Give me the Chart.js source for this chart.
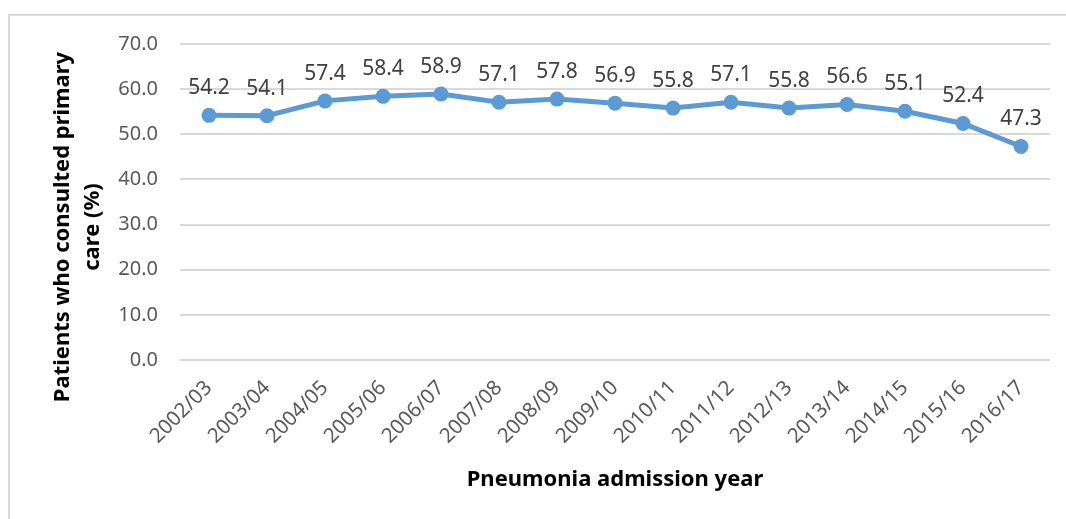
<!DOCTYPE html>
<html>
<head>
<meta charset="utf-8">
<script src="https://cdn.jsdelivr.net/npm/chart.js@4.4.0/dist/chart.umd.min.js"></script>
<style>
  html, body { margin: 0; padding: 0; background: #fff; overflow: hidden; }
  #frame { position: absolute; left: 8px; top: 14px; width: 1200px; height: 600px;
           border-top: 2px solid #d9d9d9; border-left: 2px solid #d9d9d9; }
  #chart { position: absolute; left: 0; top: 0; }
</style>
</head>
<body>
<div id="frame"></div>
<canvas id="chart" width="1066" height="519"></canvas>
<script>
const years = ["2002/03", "2003/04", "2004/05", "2005/06", "2006/07", "2007/08", "2008/09",
  "2009/10", "2010/11", "2011/12", "2012/13", "2013/14", "2014/15", "2015/16", "2016/17"];
const consulted = [54.2, 54.1, 57.4, 58.4, 58.9, 57.1, 57.8, 56.9, 55.8, 57.1, 55.8, 56.6, 55.1, 52.4, 47.3];
const yTicks = [0, 10, 20, 30, 40, 50, 60, 70];
const yTitle = ["Patients who consulted primary", "care (%)"];

const FONT = "'Noto Sans', 'Open Sans', sans-serif";

// values above each marker
const pointLabels = {
  id: "pointLabels",
  afterDatasetsDraw(chart) {
    const ctx = chart.ctx;
    const meta = chart.getDatasetMeta(0);
    ctx.save();
    ctx.font = "21px " + FONT;
    ctx.fillStyle = "#404040";
    ctx.textAlign = "center";
    ctx.textBaseline = "middle";
    meta.data.forEach((pt, i) => {
      ctx.fillText(consulted[i].toFixed(1), pt.x, pt.y - 27);
    });
    ctx.restore();
  },
};

// y axis title, centred on the whole axis area like the original
const yAxisTitle = {
  id: "yAxisTitle",
  afterDraw(chart) {
    const ctx = chart.ctx;
    ctx.save();
    ctx.font = "bold 22px " + FONT;
    ctx.fillStyle = "#000";
    ctx.textAlign = "center";
    ctx.textBaseline = "middle";
    ctx.translate(63, 227);
    ctx.rotate(-Math.PI / 2);
    yTitle.forEach((line, i) => ctx.fillText(line, 0, i * 30));
    ctx.restore();
  },
};

new Chart(document.getElementById("chart"), {
  type: "line",
  data: {
    labels: years,
    datasets: [
      {
        data: consulted,
        borderColor: "#5b9bd5",
        backgroundColor: "#5b9bd5",
        borderWidth: 5,
        pointRadius: 7.5,
        pointHoverRadius: 7.5,
        pointBorderWidth: 0,
        tension: 0,
      },
    ],
  },
  options: {
    responsive: false,
    animation: false,
    events: [],
    layout: { padding: { top: 44, right: 16, left: 0, bottom: 26 } },
    plugins: { legend: { display: false }, tooltip: { enabled: false } },
    scales: {
      x: {
        offset: true,
        grid: { display: false },
        border: { display: false },
        ticks: {
          color: "#595959",
          font: { family: FONT, size: 20.5 },
          minRotation: 45,
          maxRotation: 45,
          autoSkip: false,
          padding: 8,
        },
        title: {
          display: true,
          text: "Pneumonia admission year",
          color: "#000",
          font: { family: FONT, size: 22, weight: "bold" },
          padding: { top: 0, bottom: 0 },
        },
        afterFit(scale) { scale.height = 133; },
      },
      y: {
        min: 0,
        max: 70,
        afterBuildTicks(scale) { scale.ticks = yTicks.map((v) => ({ value: v })); },
        grid: { color: "#d9d9d9", lineWidth: 2, drawTicks: false },
        border: { display: false },
        ticks: {
          color: "#595959",
          font: { family: FONT, size: 20 },
          padding: 22,
          callback: (v) => Number(v).toFixed(1),
        },
        afterFit(scale) { scale.width = 180; },
      },
    },
  },
  plugins: [pointLabels, yAxisTitle],
});
</script>
</body>
</html>
